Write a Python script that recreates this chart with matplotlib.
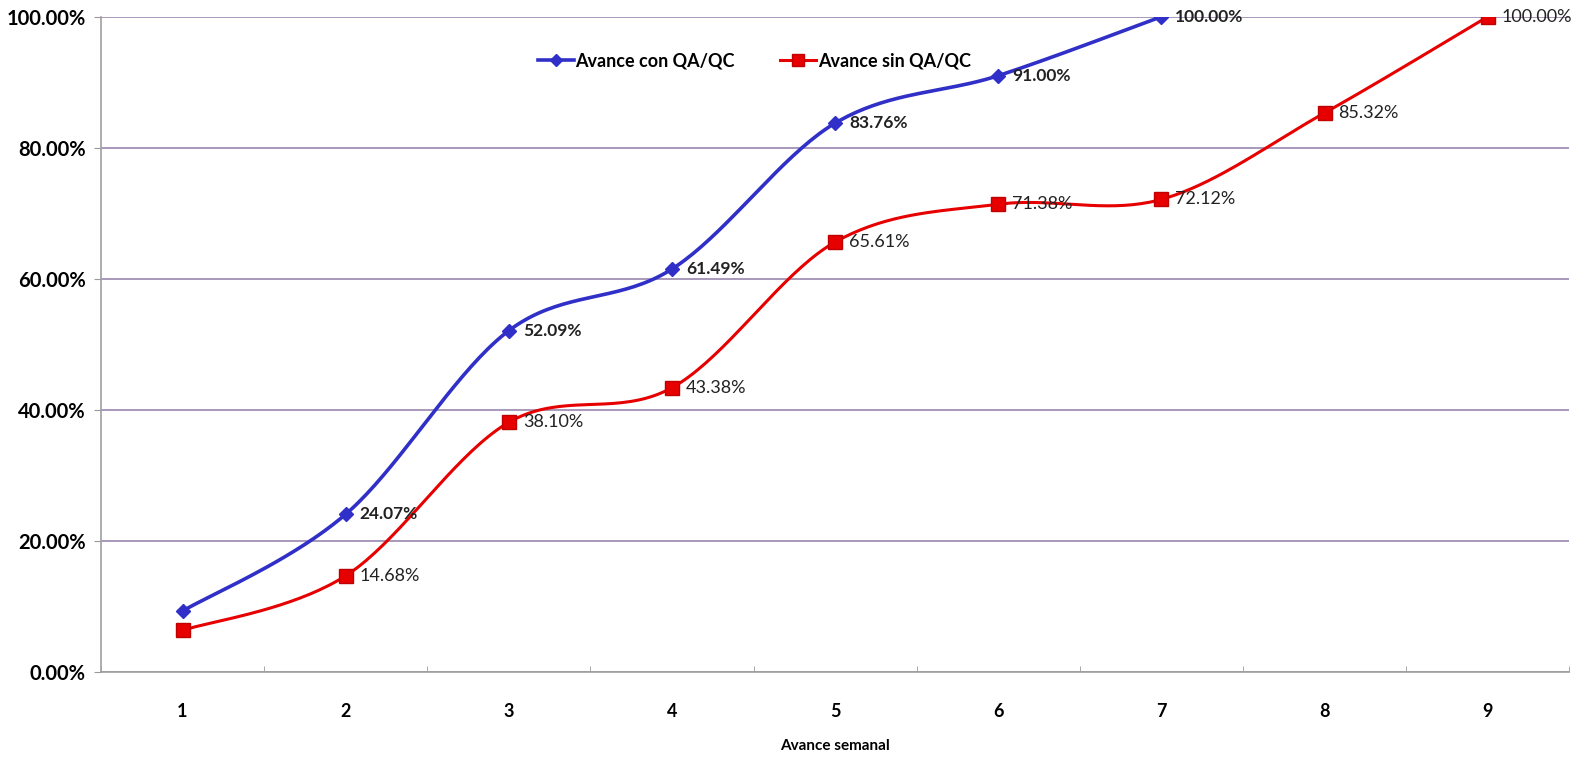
import matplotlib
matplotlib.use("Agg")
import matplotlib.pyplot as plt
import numpy as np

weeks = [1, 2, 3, 4, 5, 6, 7, 8, 9]
con_qa = [9.30, 24.07, 52.09, 61.49, 83.76, 91.00, 100.00]
sin_qa = [6.35, 14.68, 38.10, 43.38, 65.61, 71.38, 72.12, 85.32, 100.00]
label_con = ["", "24.07%", "52.09%", "61.49%", "83.76%", "91.00%", "100.00%"]
label_sin = ["", "14.68%", "38.10%", "43.38%", "65.61%", "71.38%", "72.12%", "85.32%", "100.00%"]
yticks = [0, 20, 40, 60, 80, 100]

plt.rcParams['font.family'] = ['Lato', 'DejaVu Sans']


def smooth(xs, ys, n=40):
    xs = np.asarray(xs, float)
    ys = np.asarray(ys, float)
    P = np.column_stack([xs, ys])
    out = []
    for i in range(len(P) - 1):
        p0 = P[i - 1] if i > 0 else P[i]
        p1 = P[i]
        p2 = P[i + 1]
        p3 = P[i + 2] if i + 2 < len(P) else P[i + 1]
        c1 = p1 + (p2 - p0) / 6.0
        c2 = p2 - (p3 - p1) / 6.0
        t = np.linspace(0, 1, n)[:, None]
        seg = ((1 - t) ** 3) * p1 + 3 * ((1 - t) ** 2) * t * c1 + 3 * (1 - t) * t ** 2 * c2 + t ** 3 * p2
        out.append(seg if i == 0 else seg[1:])
    s = np.vstack(out)
    return s[:, 0], s[:, 1]


fig = plt.figure(figsize=(15.9, 7.58), dpi=100)
ax = fig.add_axes([0.0635, 0.1135, 0.9235, 0.8645])

blue = "#3030c8"
red = "#e60000"

ax.set_xlim(0.5, 9.5)
ax.set_ylim(0, 100)
ax.set_yticks(yticks)
ax.set_yticklabels([f"{v:.2f}%" for v in yticks], fontsize=14.5, fontweight="bold")
ax.set_xticks(weeks)
ax.set_xticklabels([str(w) for w in weeks], fontsize=13, fontweight="bold")
ax.set_xticks(np.arange(0.5, 10, 1), minor=True)
ax.tick_params(axis="x", which="major", length=0, pad=22)
ax.tick_params(axis="x", which="minor", length=4, color="#999999", direction="in")
ax.tick_params(axis="y", length=5, color="#999999", pad=6)
ax.grid(axis="y", color="#9a88b0", linewidth=1.2)
ax.set_axisbelow(True)
for s in ["top", "right"]:
    ax.spines[s].set_visible(False)
for s in ["left", "bottom"]:
    ax.spines[s].set_color("#a0a0a0")
    ax.spines[s].set_linewidth(1.2)

wx = weeks[:len(con_qa)]
sx, sy = smooth(wx, con_qa)
ax.plot(sx, sy, color=blue, lw=2.6, zorder=3)
ax.plot(wx, con_qa, ls="none", marker="D", ms=7, color=blue, zorder=4)
ax.plot([], [], color=blue, lw=2.6, marker="D", ms=6, label="Avance con QA/QC")

sx2, sy2 = smooth(weeks, sin_qa)
ax.plot(sx2, sy2, color=red, lw=2.2, zorder=3)
ax.plot(weeks, sin_qa, ls="none", marker="s", ms=10, color=red, mec="#c00000", zorder=4)
ax.plot([], [], color=red, lw=2.2, marker="s", ms=8, mec="#c00000", label="Avance sin QA/QC")

for x, y, t in zip(wx, con_qa, label_con):
    if t:
        ax.annotate(t, (x, y), xytext=(10, 0), textcoords="offset points",
                    va="center", ha="left", fontsize=12.5, fontweight="bold", color="#222222", zorder=5)
for x, y, t in zip(weeks, sin_qa, label_sin):
    if t:
        ax.annotate(t, (x, y), xytext=(10, 0), textcoords="offset points",
                    va="center", ha="left", fontsize=13, color="#222222", zorder=5)

ax.legend(loc="upper center", bbox_to_anchor=(0.445, 0.97), ncol=2, frameon=False,
          prop={"size": 13, "weight": "bold"}, handlelength=2.0, handletextpad=0.1,
          columnspacing=2.5)

ax.set_xlabel("Avance semanal", fontsize=11, fontweight="bold", labelpad=14)

fig.savefig("out.png", dpi=100, facecolor="white")
